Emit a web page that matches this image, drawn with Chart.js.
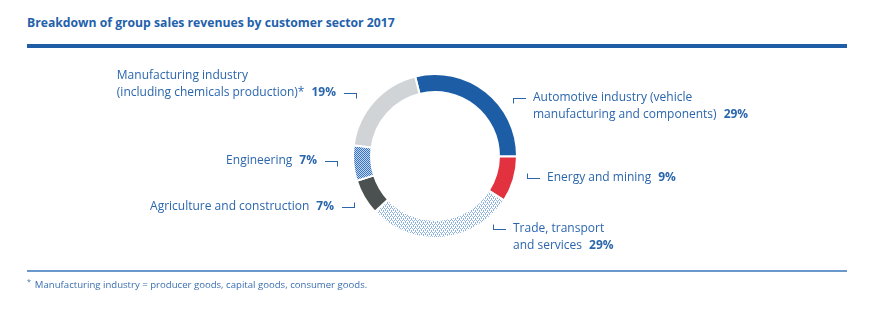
<!DOCTYPE html>
<html>
<head>
<meta charset="utf-8">
<script src="https://cdn.jsdelivr.net/npm/chart.js@4.4.1/dist/chart.umd.min.js"></script>
<style>
  html, body { margin: 0; padding: 0; background: #fff; }
  body { width: 891px; height: 325px; position: relative; overflow: hidden; font-family: "Open Sans", sans-serif; }
  #title { position: absolute; left: 27px; top: 14px; font-size: 12.2px; font-weight: 700; color: #2361ab; white-space: nowrap; }
  #ruleTop { position: absolute; left: 27px; top: 44px; width: 820px; height: 4px; background: #1f5ea6; }
  #ruleBottom { position: absolute; left: 27px; top: 270px; width: 820px; height: 2px; background: #6a98cc; }
  #note { position: absolute; left: 27px; top: 277px; font-size: 9.6px; color: #3a6fb0; white-space: nowrap; }
  #note sup { font-size: 7px; margin-right: 4px; }
  #chart { position: absolute; left: 0; top: 0; }
</style>
</head>
<body>
<div id="title">Breakdown of group sales revenues by customer sector 2017</div>
<div id="ruleTop"></div>
<canvas id="chart" width="891" height="325"></canvas>
<div id="ruleBottom"></div>
<div id="note"><sup>*</sup>Manufacturing industry = producer goods, capital goods, consumer goods.</div>
<script>
// ---------- 数据 ----------
const sectors = [
  'Automotive industry (vehicle manufacturing and components)',
  'Energy and mining',
  'Trade, transport and services',
  'Agriculture and construction',
  'Engineering',
  'Manufacturing industry (including chemicals production)*'
];
const shares = [29, 9, 29, 7, 7, 19];   // 百分比
// 标签换行方式（最后一行后面接加粗的百分比）
const labelLines = [
  ['Automotive industry (vehicle', 'manufacturing and components)'],
  ['Energy and mining'],
  ['Trade, transport', 'and services'],
  ['Agriculture and construction'],
  ['Engineering'],
  ['Manufacturing industry', '(including chemicals production)*']
];

// ---------- 填充图案 ----------
function makePattern(size, bg, fg, dots) {
  const c = document.createElement('canvas');
  c.width = size; c.height = size;
  const g = c.getContext('2d');
  g.fillStyle = bg;
  g.fillRect(0, 0, size, size);
  g.fillStyle = fg;
  dots.forEach(function (d) { g.fillRect(d[0], d[1], 1, 1); });
  return g.createPattern(c, 'repeat');
}
const tmp = document.getElementById('chart').getContext('2d');
const checkBlue = makePattern(2, '#c3d6f0', '#3a74c0', [[0, 0], [1, 1]]);
const dotBlue = makePattern(4, '#ffffff', '#8fb2e0', [[0, 0], [2, 0], [1, 2], [3, 2], [1, 1], [3, 3]]);

const colors = ['#1c5da5', '#e2323f', dotBlue, '#4b5050', checkBlue, '#d1d4d7'];

// ---------- 标签位置（引线拐点 + 文字对齐） ----------
// side: 'l' = 文字在引线左边, 'r' = 文字在右边; tick: 竖线方向 (1 向下, -1 向上)
const labelPos = [
  { x: 513, y: 98,  side: 'r', tick: 1 },
  { x: 527, y: 178, side: 'r', tick: -1 },
  { x: 493, y: 229, side: 'r', tick: -1 },
  { x: 355, y: 207, side: 'l', tick: -1 },
  { x: 338, y: 161, side: 'l', tick: 1 },
  { x: 357, y: 93,  side: 'l', tick: 1 }
];

const LINE_H = 17;
const TEXT_COLOR = '#2b66ad';
const FONT_N = '12px "Open Sans"';
const FONT_B = 'bold 12px "Open Sans"';

const sectorLabels = {
  id: 'sectorLabels',
  afterDraw: function (chart) {
    const ctx = chart.ctx;
    ctx.save();
    ctx.strokeStyle = TEXT_COLOR;
    ctx.fillStyle = TEXT_COLOR;
    ctx.lineWidth = 1;
    ctx.textBaseline = 'middle';
    labelPos.forEach(function (p, i) {
      const lines = labelLines[i];
      const pct = shares[i] + '%';
      // 引线
      const len = 13;
      const x0 = p.side === 'r' ? p.x : p.x - len;
      const cornerX = p.side === 'r' ? p.x + 0.5 : p.x - 0.5;
      ctx.beginPath();
      ctx.moveTo(x0, p.y + 0.5);
      ctx.lineTo(x0 + len, p.y + 0.5);
      ctx.moveTo(cornerX, p.y + 0.5);
      ctx.lineTo(cornerX, p.y + 0.5 + 5 * p.tick);
      ctx.stroke();

      // 文字：右侧标签首行对齐引线，左侧标签末行对齐引线
      const gap = 7;
      if (p.side === 'r') {
        const tx = p.x + len + 7;
        lines.forEach(function (t, k) {
          const y = p.y + k * LINE_H;
          ctx.font = FONT_N;
          ctx.textAlign = 'left';
          ctx.fillText(t, tx, y);
          if (k === lines.length - 1) {
            const w = ctx.measureText(t).width;
            ctx.font = FONT_B;
            ctx.fillText(pct, tx + w + gap, y);
          }
        });
      } else {
        ctx.font = FONT_B;
        const pw = ctx.measureText(pct).width;
        const last = lines[lines.length - 1];
        ctx.font = FONT_N;
        const lw = ctx.measureText(last).width;
        const right = p.x - len - 8;
        const left = right - pw - gap - lw;
        lines.forEach(function (t, k) {
          const y = p.y - (lines.length - 1 - k) * LINE_H;
          ctx.font = FONT_N;
          ctx.textAlign = 'left';
          ctx.fillText(t, left, y);
        });
        ctx.font = FONT_B;
        ctx.fillText(pct, right - pw, p.y);
      }
    });
    ctx.restore();
  }
};

// ---------- 环形图 ----------
new Chart(document.getElementById('chart'), {
  type: 'doughnut',
  data: {
    labels: sectors,
    datasets: [{
      data: shares,
      backgroundColor: colors,
      borderColor: '#ffffff',
      borderWidth: 2,
      hoverOffset: 0
    }]
  },
  options: {
    responsive: false,
    animation: false,
    rotation: -14,
    cutout: '78%',
    layout: { padding: { left: 352, right: 373, top: 73, bottom: 86 } },
    plugins: {
      legend: { display: false },
      tooltip: { enabled: false }
    }
  },
  plugins: [sectorLabels]
});
</script>
</body>
</html>
